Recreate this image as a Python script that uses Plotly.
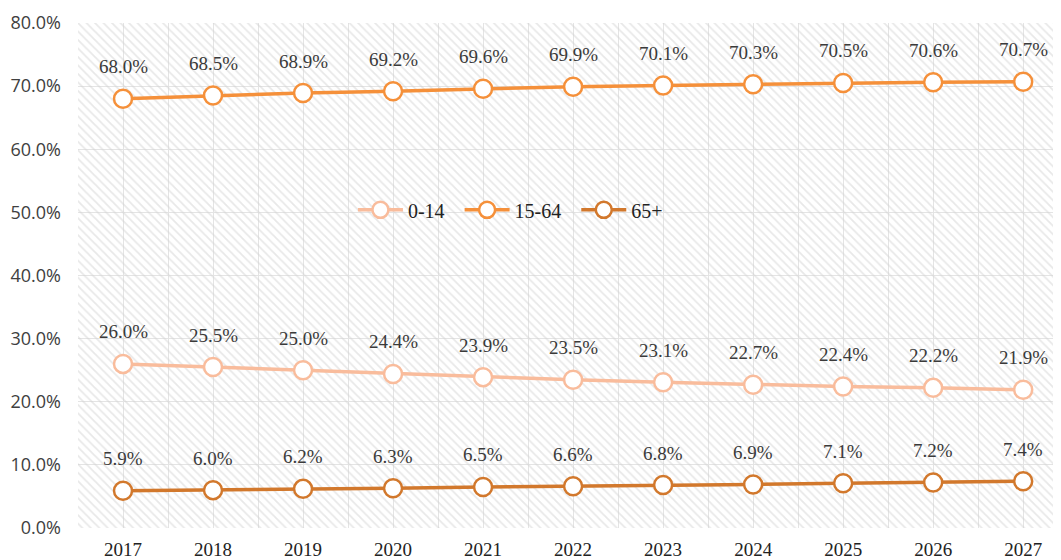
import plotly.graph_objects as go

years = [2017, 2018, 2019, 2020, 2021, 2022, 2023, 2024, 2025, 2026, 2027]
age_0_14 = [26.0, 25.5, 25.0, 24.4, 23.9, 23.5, 23.1, 22.7, 22.4, 22.2, 21.9]
age_15_64 = [68.0, 68.5, 68.9, 69.2, 69.6, 69.9, 70.1, 70.3, 70.5, 70.6, 70.7]
age_65_plus = [5.9, 6.0, 6.2, 6.3, 6.5, 6.6, 6.8, 6.9, 7.1, 7.2, 7.4]
y_ticks = [0, 10, 20, 30, 40, 50, 60, 70, 80]

series = [
    ("0-14", age_0_14, "#F9BC9C"),
    ("15-64", age_15_64, "#F5903A"),
    ("65+", age_65_plus, "#D2782C"),
]

serif = "Liberation Serif, Times New Roman, serif"

fig = go.Figure()

# hatched plot background
fig.add_trace(go.Bar(
    x=years, y=[max(y_ticks)] * len(years), width=1,
    marker=dict(color="rgba(0,0,0,0)", line_width=0,
                pattern=dict(shape="\\", fgcolor="#d2d2d2", bgcolor="rgba(0,0,0,0)",
                             size=6, solidity=0.3)),
    hoverinfo="skip", showlegend=False,
))

for name, vals, color in series:
    fig.add_trace(go.Scatter(
        x=years, y=vals, name=name + "  ", mode="lines+markers",
        line=dict(color=color, width=3.5),
        marker=dict(size=18, color="white", line=dict(color=color, width=2.5)),
    ))
    for x, v in zip(years, vals):
        fig.add_annotation(x=x, y=v, text=f"{v:.1f}%", showarrow=False,
                           yshift=32, font=dict(family=serif, size=19, color="#3a3a3a"))

# page body has an 8px margin, so the figure is 8px smaller than the window
fig.update_layout(
    width=1053, height=552,
    margin=dict(l=70, r=0, t=15, b=32),
    paper_bgcolor="white", plot_bgcolor="white",
    bargap=0,
    legend=dict(orientation="h", x=0.445, xanchor="center", y=0.63, yanchor="middle",
                bgcolor="rgba(0,0,0,0)", font=dict(family=serif, size=20, color="#222222"),
                itemwidth=45, tracegroupgap=0),
)
fig.update_xaxes(
    range=[2016.5, 2027.42], tickvals=years, ticktext=[str(y) for y in years],
    showgrid=False, zeroline=False, showline=False, ticks="",
    tickfont=dict(family=serif, size=19, color="#222222"), ticklabelstandoff=8,
    minor=dict(dtick=0.5, tick0=2016.5, showgrid=True, gridcolor="#e4e4e4", gridwidth=1),
)
fig.update_yaxes(
    range=[0, 80], tickvals=y_ticks, ticktext=[f"{t:.1f}%" for t in y_ticks],
    showgrid=True, gridcolor="#e4e4e4", zeroline=False, showline=False,
    tickfont=dict(family="Open Sans, sans-serif", size=18, color="#404040"),
    ticks="", ticklabelstandoff=16,
)

fig.write_html("out.html")
